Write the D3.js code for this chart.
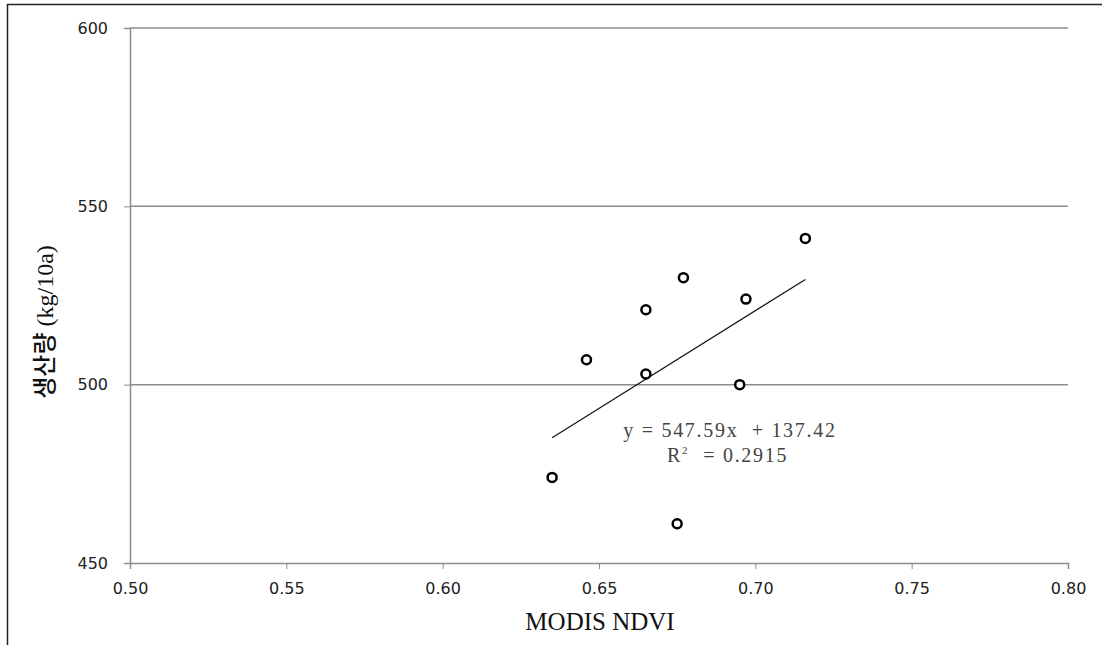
<!DOCTYPE html>
<html>
<head>
<meta charset="utf-8">
<script src="https://cdn.jsdelivr.net/npm/d3@7"></script>
<style>
  body { margin: 0; background: #fff; }
</style>
</head>
<body>
<div id="chart"></div>
<script>
// NDVI vs yield
const ndvi = [0.716, 0.677, 0.697, 0.665, 0.646, 0.665, 0.695, 0.635, 0.675];
const yieldKg = [541, 530, 524, 521, 507, 503, 500, 474, 461];
const xTicks = [0.50, 0.55, 0.60, 0.65, 0.70, 0.75, 0.80];
const yTicks = [450, 500, 550, 600];
const slope = 547.59, intercept = 137.42;
const eqLabel = "y = 547.59x  + 137.42";
const r2Label = "= 0.2915";

const W = 1102, H = 645;
const plotLeft = 130, plotRight = 1068, plotTop = 28, plotBottom = 563;

const svg = d3.select("#chart").append("svg")
    .attr("width", W)
    .attr("height", H);

// outer frame (only top and left visible)
svg.append("line").attr("x1", 7).attr("x2", W).attr("y1", 4.5).attr("y2", 4.5)
    .attr("stroke", "#222").attr("stroke-width", 1.5);
svg.append("line").attr("x1", 7.5).attr("x2", 7.5).attr("y1", 4).attr("y2", H)
    .attr("stroke", "#222").attr("stroke-width", 1.5);

const x = d3.scaleLinear().domain([0.5, 0.8]).range([plotLeft, plotRight]);
const y = d3.scaleLinear().domain([450, 600]).range([plotBottom, plotTop]);

// gridlines
svg.append("g")
    .selectAll("line")
    .data(yTicks.filter(d => d > 450))
    .enter()
    .append("line")
    .attr("x1", plotLeft).attr("x2", plotRight)
    .attr("y1", d => y(d)).attr("y2", d => y(d))
    .attr("stroke", "#8c8c8c")
    .attr("stroke-width", 1.5);

const tickFont = "'DejaVu Sans', sans-serif";

const yAxis = svg.append("g")
    .attr("transform", `translate(${plotLeft},0)`)
    .call(d3.axisLeft(y).tickValues(yTicks).tickSize(6).tickPadding(16).tickFormat(d3.format("d")));
yAxis.select(".domain").attr("stroke", "#8c8c8c").attr("stroke-width", 1.5);
yAxis.selectAll(".tick line").attr("stroke", "#8c8c8c");
yAxis.selectAll(".tick text").attr("font-family", tickFont).attr("font-size", 16).attr("fill", "#222");

const xAxis = svg.append("g")
    .attr("transform", `translate(0,${plotBottom})`)
    .call(d3.axisBottom(x).tickValues(xTicks).tickSize(6).tickPadding(14).tickFormat(d3.format(".2f")));
xAxis.select(".domain").attr("stroke", "#8c8c8c").attr("stroke-width", 1.5);
xAxis.selectAll(".tick line").attr("stroke", "#8c8c8c");
xAxis.selectAll(".tick text").attr("font-family", tickFont).attr("font-size", 16).attr("fill", "#222");

// trend line over the data range
const xMin = d3.min(ndvi), xMax = d3.max(ndvi);
svg.append("line")
    .attr("x1", x(xMin)).attr("y1", y(slope * xMin + intercept))
    .attr("x2", x(xMax)).attr("y2", y(slope * xMax + intercept))
    .attr("stroke", "#111")
    .attr("stroke-width", 1.2);

// points
svg.append("g")
    .selectAll("circle")
    .data(ndvi.map((d, i) => [d, yieldKg[i]]))
    .enter()
    .append("circle")
    .attr("cx", d => x(d[0]))
    .attr("cy", d => y(d[1]))
    .attr("r", 4.5)
    .attr("fill", "#fff")
    .attr("stroke", "#000")
    .attr("stroke-width", 2.5);

// equation
const serif = "'Liberation Serif', 'DejaVu Serif', serif";
svg.append("text")
    .attr("x", 730).attr("y", 437)
    .attr("text-anchor", "middle")
    .attr("font-family", serif)
    .attr("font-size", 20)
    .attr("letter-spacing", 1.7)
    .attr("fill", "#444")
    .style("white-space", "pre")
    .text(eqLabel);
const r2 = svg.append("text")
    .attr("x", 667).attr("y", 462)
    .attr("font-family", serif)
    .attr("font-size", 20)
    .attr("letter-spacing", 1.7)
    .attr("fill", "#444")
    .style("white-space", "pre");
r2.append("tspan").text("R");
r2.append("tspan").attr("dy", -8).attr("font-size", 11).text("2");
r2.append("tspan").attr("dy", 8).attr("dx", 14).text(r2Label);

// axis titles
svg.append("text")
    .attr("x", 600).attr("y", 630)
    .attr("text-anchor", "middle")
    .attr("font-family", serif)
    .attr("font-size", 25)
    .attr("fill", "#111")
    .text("MODIS NDVI");

svg.append("text")
    .attr("transform", "translate(53,322) rotate(-90)")
    .attr("text-anchor", "middle")
    .attr("font-family", "'Liberation Serif', 'Noto Sans CJK KR', serif")
    .attr("font-size", 24)
    .attr("font-weight", 500)
    .attr("fill", "#111")
    .style("white-space", "pre")
    .text("생산량 (kg/10a)");
</script>
</body>
</html>
